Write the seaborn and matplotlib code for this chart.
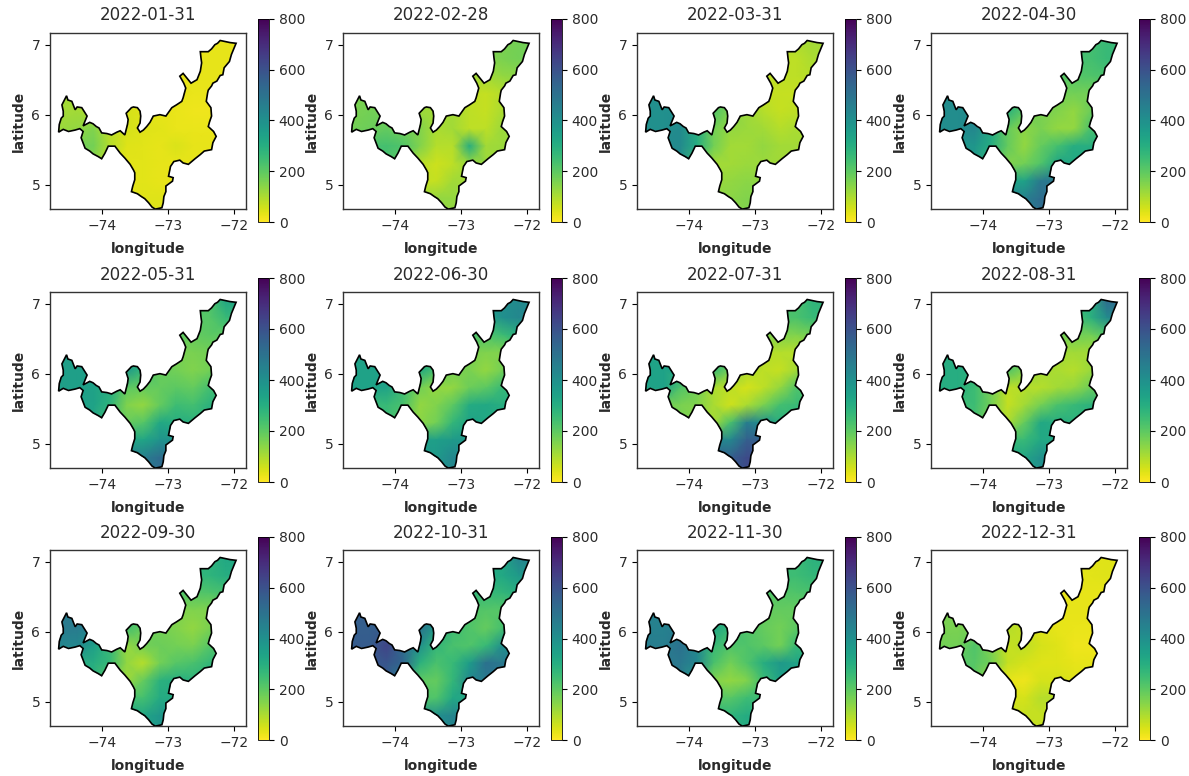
import numpy as np
import matplotlib
matplotlib.use("Agg")
import matplotlib.pyplot as plt
from matplotlib.patches import Polygon
import seaborn as sns

# grid nodes of the monthly fields
grid_lon = [-74.87, -74.62, -74.37, -74.12, -73.87, -73.62, -73.37, -73.12, -72.87, -72.62, -72.37, -72.12, -71.87]
grid_lat = [7.30, 7.05, 6.80, 6.55, 6.30, 6.05, 5.80, 5.55, 5.30, 5.05, 4.80, 4.55]

# department outline
outline_lon = [-71.97, -72.04, -72.07, -72.15, -72.17, -72.21, -72.26, -72.32, -72.34, -72.39, -72.40, -72.42, -72.35,
               -72.34, -72.37, -72.39, -72.31, -72.27, -72.32, -72.34, -72.45, -72.51, -72.59, -72.69, -72.77, -72.82,
               -72.91, -72.96, -72.99, -72.92, -72.93, -73.03, -73.03, -73.06, -73.07, -73.09, -73.19, -73.24, -73.29,
               -73.35, -73.40, -73.46, -73.55, -73.53, -73.50, -73.50, -73.52, -73.57, -73.65, -73.72, -73.80, -73.90,
               -73.95, -74.00, -74.05, -74.13, -74.18, -74.25, -74.31, -74.28, -74.33, -74.40, -74.50, -74.58, -74.65,
               -74.64, -74.61, -74.58, -74.58, -74.60, -74.53, -74.51, -74.45, -74.40, -74.37, -74.30, -74.22, -74.28,
               -74.18, -74.13, -74.08, -74.04, -74.00, -73.92, -73.85, -73.77, -73.72, -73.65, -73.61, -73.60, -73.63,
               -73.55, -73.52, -73.46, -73.42, -73.41, -73.42, -73.46, -73.42, -73.37, -73.32, -73.27, -73.22, -73.12,
               -73.03, -72.94, -72.87, -72.79, -72.77, -72.75, -72.73, -72.76, -72.82, -72.77, -72.65, -72.56, -72.51,
               -72.49, -72.50, -72.51, -72.39, -72.34, -72.29, -72.25, -72.21, -72.06]
outline_lat = [7.02, 6.86, 6.76, 6.67, 6.57, 6.56, 6.48, 6.45, 6.41, 6.35, 6.31, 6.19, 6.10,
               5.98, 5.90, 5.83, 5.76, 5.69, 5.60, 5.50, 5.48, 5.43, 5.37, 5.29, 5.31, 5.35,
               5.33, 5.26, 5.12, 5.10, 5.05, 4.98, 4.90, 4.83, 4.74, 4.67, 4.65, 4.68, 4.74,
               4.80, 4.83, 4.87, 4.90, 4.98, 5.07, 5.17, 5.21, 5.29, 5.38, 5.45, 5.55, 5.55,
               5.45, 5.37, 5.40, 5.44, 5.48, 5.52, 5.67, 5.76, 5.80, 5.78, 5.76, 5.79, 5.75,
               5.86, 5.95, 5.98, 6.05, 6.14, 6.27, 6.21, 6.19, 6.07, 6.11, 6.10, 5.98, 5.84,
               5.89, 5.87, 5.83, 5.81, 5.74, 5.73, 5.71, 5.75, 5.77, 5.71, 5.86, 5.93, 6.02,
               6.10, 6.11, 6.10, 6.05, 5.98, 5.88, 5.81, 5.75, 5.78, 5.83, 5.89, 5.98, 6.00,
               5.98, 6.10, 6.14, 6.19, 6.24, 6.31, 6.38, 6.45, 6.55, 6.59, 6.45, 6.50, 6.62,
               6.74, 6.81, 6.90, 6.90, 6.94, 7.00, 7.02, 7.06, 7.03]

dates = ["2022-01-31", "2022-02-28", "2022-03-31", "2022-04-30", "2022-05-31", "2022-06-30",
         "2022-07-31", "2022-08-31", "2022-09-30", "2022-10-31", "2022-11-30", "2022-12-31"]

jan = [[30, 30, 30, 30, 30, 30, 30, 30, 30, 30, 30, 30, 30],
       [30, 30, 30, 30, 30, 30, 30, 30, 30, 30, 30, 30, 30],
       [30, 30, 30, 30, 30, 30, 30, 30, 30, 30, 30, 30, 30],
       [30, 30, 30, 30, 30, 30, 30, 30, 30, 30, 30, 30, 30],
       [110, 110, 100, 60, 40, 30, 30, 30, 30, 25, 25, 30, 30],
       [110, 110, 110, 90, 50, 50, 40, 30, 25, 20, 20, 30, 30],
       [120, 120, 130, 150, 80, 50, 40, 35, 25, 25, 25, 30, 30],
       [150, 150, 170, 170, 90, 40, 35, 30, 45, 30, 30, 30, 30],
       [150, 150, 150, 140, 50, 35, 35, 30, 30, 30, 30, 30, 30],
       [40, 40, 40, 40, 40, 30, 35, 30, 30, 30, 30, 30, 30],
       [40, 40, 40, 40, 40, 40, 40, 40, 40, 40, 40, 40, 40],
       [40, 40, 40, 40, 40, 40, 40, 40, 40, 40, 40, 40, 40]]
feb = [[160, 160, 160, 160, 160, 160, 160, 160, 160, 160, 160, 170, 170],
       [160, 160, 160, 160, 160, 160, 160, 160, 160, 160, 160, 170, 170],
       [130, 130, 130, 130, 130, 130, 130, 130, 140, 150, 160, 170, 170],
       [130, 130, 130, 130, 130, 130, 130, 120, 110, 110, 130, 140, 140],
       [160, 160, 160, 150, 130, 120, 110, 100, 80, 70, 90, 100, 100],
       [150, 160, 170, 170, 140, 120, 110, 110, 80, 70, 100, 100, 100],
       [170, 170, 180, 190, 170, 150, 100, 110, 80, 80, 120, 120, 120],
       [220, 220, 230, 240, 220, 150, 90, 90, 300, 110, 120, 120, 120],
       [220, 220, 220, 230, 170, 90, 60, 80, 130, 120, 120, 120, 120],
       [100, 100, 100, 100, 90, 70, 70, 110, 110, 110, 110, 110, 110],
       [130, 130, 130, 130, 130, 130, 130, 130, 130, 130, 130, 130, 130],
       [130, 130, 130, 130, 130, 130, 130, 130, 130, 130, 130, 130, 130]]
mar = [[110, 110, 110, 110, 110, 110, 110, 110, 110, 110, 110, 110, 110],
       [100, 100, 100, 100, 100, 100, 100, 100, 100, 100, 100, 110, 110],
       [80, 80, 80, 80, 80, 80, 80, 80, 80, 80, 80, 100, 100],
       [90, 90, 90, 90, 90, 90, 90, 90, 80, 80, 80, 90, 90],
       [400, 400, 400, 350, 220, 220, 150, 90, 70, 70, 70, 70, 70],
       [400, 400, 400, 400, 280, 220, 150, 120, 90, 70, 80, 80, 80],
       [400, 400, 400, 420, 300, 170, 130, 120, 110, 90, 100, 100, 100],
       [420, 420, 420, 420, 300, 170, 110, 110, 130, 110, 110, 110, 110],
       [420, 420, 420, 400, 220, 110, 110, 120, 120, 110, 110, 110, 110],
       [140, 140, 140, 140, 130, 120, 130, 140, 130, 130, 130, 130, 130],
       [140, 140, 140, 140, 140, 140, 140, 150, 150, 150, 150, 150, 150],
       [140, 140, 140, 140, 140, 140, 140, 150, 150, 150, 150, 150, 150]]
apr = [[240, 240, 240, 240, 240, 240, 240, 240, 240, 240, 240, 260, 260],
       [240, 240, 240, 240, 240, 240, 240, 240, 240, 240, 240, 260, 260],
       [230, 230, 230, 230, 230, 230, 230, 230, 230, 240, 240, 260, 260],
       [220, 220, 220, 220, 220, 220, 220, 220, 210, 210, 220, 230, 230],
       [410, 410, 410, 380, 280, 280, 220, 190, 170, 170, 170, 170, 170],
       [410, 410, 410, 410, 330, 290, 200, 160, 150, 130, 180, 180, 180],
       [410, 410, 410, 430, 320, 190, 140, 160, 130, 130, 230, 230, 230],
       [380, 380, 380, 380, 300, 190, 130, 190, 240, 300, 300, 300, 300],
       [380, 380, 380, 370, 240, 150, 170, 220, 330, 320, 320, 320, 320],
       [340, 340, 340, 340, 340, 340, 340, 480, 480, 480, 480, 480, 480],
       [450, 450, 450, 450, 450, 450, 450, 520, 520, 520, 520, 520, 520],
       [450, 450, 450, 450, 450, 450, 450, 520, 520, 520, 520, 520, 520]]
may = [[330, 330, 330, 330, 330, 330, 330, 330, 330, 330, 330, 330, 330],
       [220, 220, 220, 220, 220, 220, 220, 220, 220, 220, 220, 330, 330],
       [210, 210, 210, 210, 210, 210, 210, 210, 210, 210, 210, 260, 260],
       [200, 200, 200, 200, 200, 200, 200, 200, 200, 190, 200, 200, 200],
       [350, 350, 350, 340, 330, 330, 260, 190, 160, 160, 170, 170, 170],
       [350, 350, 350, 350, 340, 370, 270, 190, 170, 150, 170, 170, 170],
       [350, 350, 350, 340, 300, 200, 190, 190, 200, 190, 240, 240, 240],
       [340, 340, 340, 340, 280, 150, 130, 190, 250, 240, 290, 290, 290],
       [340, 340, 340, 330, 220, 190, 210, 320, 300, 290, 290, 290, 290],
       [330, 330, 330, 330, 330, 330, 330, 390, 390, 390, 390, 390, 390],
       [460, 460, 460, 460, 460, 460, 460, 520, 520, 520, 520, 520, 520],
       [460, 460, 460, 460, 460, 460, 460, 520, 520, 520, 520, 520, 520]]
jun = [[400, 400, 400, 400, 400, 400, 400, 400, 400, 400, 400, 420, 420],
       [400, 400, 400, 400, 400, 400, 400, 400, 400, 400, 400, 420, 420],
       [300, 300, 300, 300, 300, 300, 300, 300, 300, 330, 400, 430, 430],
       [250, 250, 250, 250, 250, 250, 250, 250, 230, 220, 250, 300, 300],
       [340, 340, 340, 330, 310, 310, 240, 180, 160, 150, 150, 150, 150],
       [340, 340, 340, 340, 320, 320, 230, 170, 160, 130, 170, 170, 170],
       [340, 340, 340, 340, 250, 170, 130, 130, 180, 200, 260, 260, 260],
       [260, 260, 260, 260, 230, 130, 150, 200, 310, 320, 300, 300, 300],
       [260, 260, 260, 260, 190, 140, 170, 270, 340, 320, 300, 300, 300],
       [350, 350, 350, 350, 350, 350, 350, 370, 370, 370, 370, 370, 370],
       [370, 370, 370, 370, 370, 370, 370, 430, 430, 430, 430, 430, 430],
       [370, 370, 370, 370, 370, 370, 370, 430, 430, 430, 430, 430, 430]]
jul = [[230, 230, 230, 230, 230, 230, 230, 230, 230, 230, 230, 280, 280],
       [230, 230, 230, 230, 230, 230, 230, 230, 230, 230, 230, 280, 280],
       [220, 220, 220, 220, 220, 220, 220, 220, 220, 220, 230, 260, 260],
       [150, 150, 150, 150, 150, 150, 150, 150, 150, 150, 150, 170, 170],
       [340, 340, 340, 320, 260, 260, 200, 130, 90, 90, 90, 90, 90],
       [340, 340, 340, 340, 260, 260, 170, 100, 80, 70, 110, 110, 110],
       [340, 340, 340, 220, 170, 100, 80, 50, 80, 130, 220, 220, 220],
       [170, 170, 170, 160, 150, 100, 60, 100, 160, 240, 260, 260, 260],
       [170, 170, 170, 170, 130, 110, 230, 460, 400, 300, 260, 260, 260],
       [430, 430, 430, 430, 430, 430, 430, 560, 560, 560, 560, 560, 560],
       [560, 560, 560, 560, 560, 560, 560, 620, 620, 620, 620, 620, 620],
       [560, 560, 560, 560, 560, 560, 560, 620, 620, 620, 620, 620, 620]]
aug = [[290, 290, 290, 290, 290, 290, 290, 290, 290, 290, 290, 520, 520],
       [290, 290, 290, 290, 290, 290, 290, 290, 290, 290, 290, 520, 520],
       [200, 200, 200, 200, 200, 200, 200, 200, 200, 220, 290, 420, 420],
       [170, 170, 170, 170, 170, 170, 170, 170, 170, 170, 170, 220, 220],
       [300, 300, 300, 290, 220, 220, 170, 130, 110, 110, 110, 110, 110],
       [300, 300, 300, 300, 220, 220, 150, 110, 100, 90, 120, 120, 120],
       [300, 300, 300, 250, 170, 80, 90, 90, 110, 130, 180, 180, 180],
       [250, 250, 250, 250, 170, 70, 110, 170, 230, 260, 290, 290, 290],
       [250, 250, 250, 240, 130, 100, 190, 320, 300, 290, 290, 290, 290],
       [260, 260, 260, 260, 260, 260, 260, 320, 320, 320, 320, 320, 320],
       [330, 330, 330, 330, 330, 330, 330, 400, 400, 400, 400, 400, 400],
       [330, 330, 330, 330, 330, 330, 330, 400, 400, 400, 400, 400, 400]]
sep = [[280, 280, 280, 280, 280, 280, 280, 280, 280, 280, 280, 320, 320],
       [280, 280, 280, 280, 280, 280, 280, 280, 280, 280, 280, 320, 320],
       [270, 270, 270, 270, 270, 270, 270, 270, 270, 270, 280, 300, 300],
       [220, 220, 220, 220, 220, 220, 220, 220, 220, 210, 220, 240, 240],
       [470, 470, 470, 420, 260, 240, 200, 170, 150, 150, 150, 150, 150],
       [470, 470, 470, 450, 300, 240, 190, 170, 150, 130, 160, 160, 160],
       [430, 430, 430, 350, 260, 130, 170, 180, 170, 160, 210, 210, 210],
       [300, 300, 300, 300, 260, 130, 90, 170, 210, 230, 270, 270, 270],
       [300, 300, 300, 290, 170, 120, 190, 290, 300, 290, 290, 290, 290],
       [240, 240, 240, 240, 240, 240, 240, 310, 310, 310, 310, 310, 310],
       [330, 330, 330, 330, 330, 330, 330, 380, 380, 380, 380, 380, 380],
       [330, 330, 330, 330, 330, 330, 330, 380, 380, 380, 380, 380, 380]]
oct_ = [[320, 320, 320, 320, 320, 320, 320, 320, 320, 320, 320, 440, 440],
        [320, 320, 320, 320, 320, 320, 320, 320, 320, 320, 320, 440, 440],
        [300, 300, 300, 300, 300, 300, 300, 300, 300, 300, 320, 370, 370],
        [270, 270, 270, 270, 270, 270, 270, 270, 270, 260, 270, 300, 300],
        [560, 560, 560, 540, 510, 500, 400, 270, 220, 210, 210, 210, 210],
        [560, 560, 560, 560, 530, 500, 360, 250, 220, 190, 240, 240, 240],
        [570, 570, 570, 640, 520, 400, 270, 230, 220, 260, 400, 400, 400],
        [580, 580, 580, 590, 540, 290, 230, 260, 360, 500, 480, 480, 480],
        [580, 580, 580, 570, 400, 200, 190, 270, 430, 480, 480, 480, 480],
        [220, 220, 220, 220, 220, 220, 220, 320, 320, 320, 320, 320, 320],
        [400, 400, 400, 400, 400, 400, 400, 440, 440, 440, 440, 440, 440],
        [400, 400, 400, 400, 400, 400, 400, 440, 440, 440, 440, 440, 440]]
nov = [[250, 250, 250, 250, 250, 250, 250, 250, 250, 250, 250, 290, 290],
       [250, 250, 250, 250, 250, 250, 250, 250, 250, 250, 250, 290, 290],
       [250, 250, 250, 250, 250, 250, 250, 250, 250, 250, 250, 270, 270],
       [220, 220, 220, 220, 220, 220, 220, 220, 220, 210, 220, 230, 230],
       [450, 450, 450, 420, 340, 330, 280, 230, 190, 190, 190, 190, 190],
       [450, 450, 450, 460, 350, 330, 260, 220, 190, 170, 200, 200, 200],
       [460, 460, 460, 500, 420, 260, 220, 220, 200, 170, 260, 260, 260],
       [480, 480, 480, 480, 430, 230, 170, 220, 300, 370, 340, 340, 340],
       [480, 480, 480, 470, 300, 150, 130, 150, 250, 340, 340, 340, 340],
       [210, 210, 210, 210, 210, 210, 210, 250, 250, 250, 250, 250, 250],
       [280, 280, 280, 280, 280, 280, 280, 310, 310, 310, 310, 310, 310],
       [280, 280, 280, 280, 280, 280, 280, 310, 310, 310, 310, 310, 310]]
dec = [[40, 40, 40, 40, 40, 40, 40, 40, 40, 40, 40, 40, 40],
       [35, 35, 35, 35, 35, 35, 35, 35, 35, 35, 35, 40, 40],
       [35, 35, 35, 35, 35, 35, 35, 35, 35, 35, 35, 40, 40],
       [30, 30, 30, 30, 30, 30, 30, 30, 30, 30, 30, 30, 30],
       [160, 160, 160, 130, 100, 90, 70, 40, 30, 30, 30, 30, 30],
       [160, 160, 160, 160, 110, 90, 70, 40, 30, 25, 25, 25, 25],
       [170, 170, 170, 220, 150, 70, 80, 50, 40, 20, 20, 20, 20],
       [210, 210, 210, 210, 170, 70, 50, 40, 40, 30, 30, 30, 30],
       [210, 210, 210, 200, 90, 30, 20, 50, 50, 40, 40, 40, 40],
       [50, 50, 50, 50, 50, 50, 50, 90, 90, 90, 90, 90, 90],
       [70, 70, 70, 70, 70, 70, 70, 70, 70, 70, 70, 70, 70],
       [70, 70, 70, 70, 70, 70, 70, 70, 70, 70, 70, 70, 70]]
fields = [jan, feb, mar, apr, may, jun, jul, aug, sep, oct_, nov, dec]

lon_ticks = [-74, -73, -72]
lat_ticks = [7, 6, 5]
cbar_ticks = [0, 200, 400, 600, 800]
lon_lim = (-74.78, -71.82)
lat_lim = (4.652, 7.167)

# pixel layout of the panels
W, H = 1189, 776
col_left = [50, 343, 637, 931]
row_top = [33, 292, 550]
row_cbar = [(19, 222), (278, 482), (537, 740)]
ax_w, ax_h = 196, 176


def to_x(lon):
    return (np.asarray(lon) - grid_lon[0]) / (grid_lon[1] - grid_lon[0])


def to_y(lat):
    return (grid_lat[0] - np.asarray(lat)) / (grid_lat[0] - grid_lat[1])


fig = plt.figure(figsize=(W / 100, H / 100), dpi=100)
text_color = "#2a2a2a"

for i, (date, field) in enumerate(zip(dates, fields)):
    r, c = divmod(i, 4)
    left, top = col_left[c], row_top[r]
    ax = fig.add_axes([left / W, 1 - (top + ax_h) / H, ax_w / W, ax_h / H])
    cb_top, cb_bot = row_cbar[r]
    cax = fig.add_axes([(left + 208) / W, 1 - cb_bot / H, 11 / W, (cb_bot - cb_top) / H])

    sns.heatmap(np.array(field, dtype=float), ax=ax, cbar_ax=cax, cmap="viridis_r", vmin=0, vmax=800,
                xticklabels=False, yticklabels=False, shading="gouraud")
    mesh = ax.collections[0]

    # clip the field to the outline
    shape = Polygon(np.column_stack([to_x(outline_lon), to_y(outline_lat)]), closed=True,
                    fc="none", ec="black", lw=1.2, transform=ax.transData, zorder=3)
    ax.add_patch(shape)
    mesh.set_clip_path(shape)

    ax.set_xlim(to_x(lon_lim[0]), to_x(lon_lim[1]))
    ax.set_ylim(to_y(lat_lim[0]), to_y(lat_lim[1]))
    ax.set_xticks(to_x(lon_ticks))
    ax.set_xticklabels([str(t).replace("-", "\u2212") for t in lon_ticks], fontsize=10, color=text_color)
    ax.set_yticks(to_y(lat_ticks))
    ax.set_yticklabels([str(t) for t in lat_ticks], fontsize=10, color=text_color, rotation=0)
    ax.tick_params(length=3.5, width=0.8)
    for s in ax.spines.values():
        s.set_visible(True)
        s.set_linewidth(1.0)
        s.set_color("#333333")
    ax.set_xlabel("longitude", fontweight="bold", fontsize=10, color=text_color, labelpad=7)
    ax.set_ylabel("latitude", fontweight="bold", fontsize=10, color=text_color)
    ax.set_title(date, fontsize=12, color=text_color, pad=9)

    cax.set_yticks(cbar_ticks)
    cax.tick_params(labelsize=10, length=3.5, width=0.8, labelcolor=text_color)
    mesh.colorbar.outline.set_linewidth(0.6)

fig.savefig("out.png", dpi=100)
